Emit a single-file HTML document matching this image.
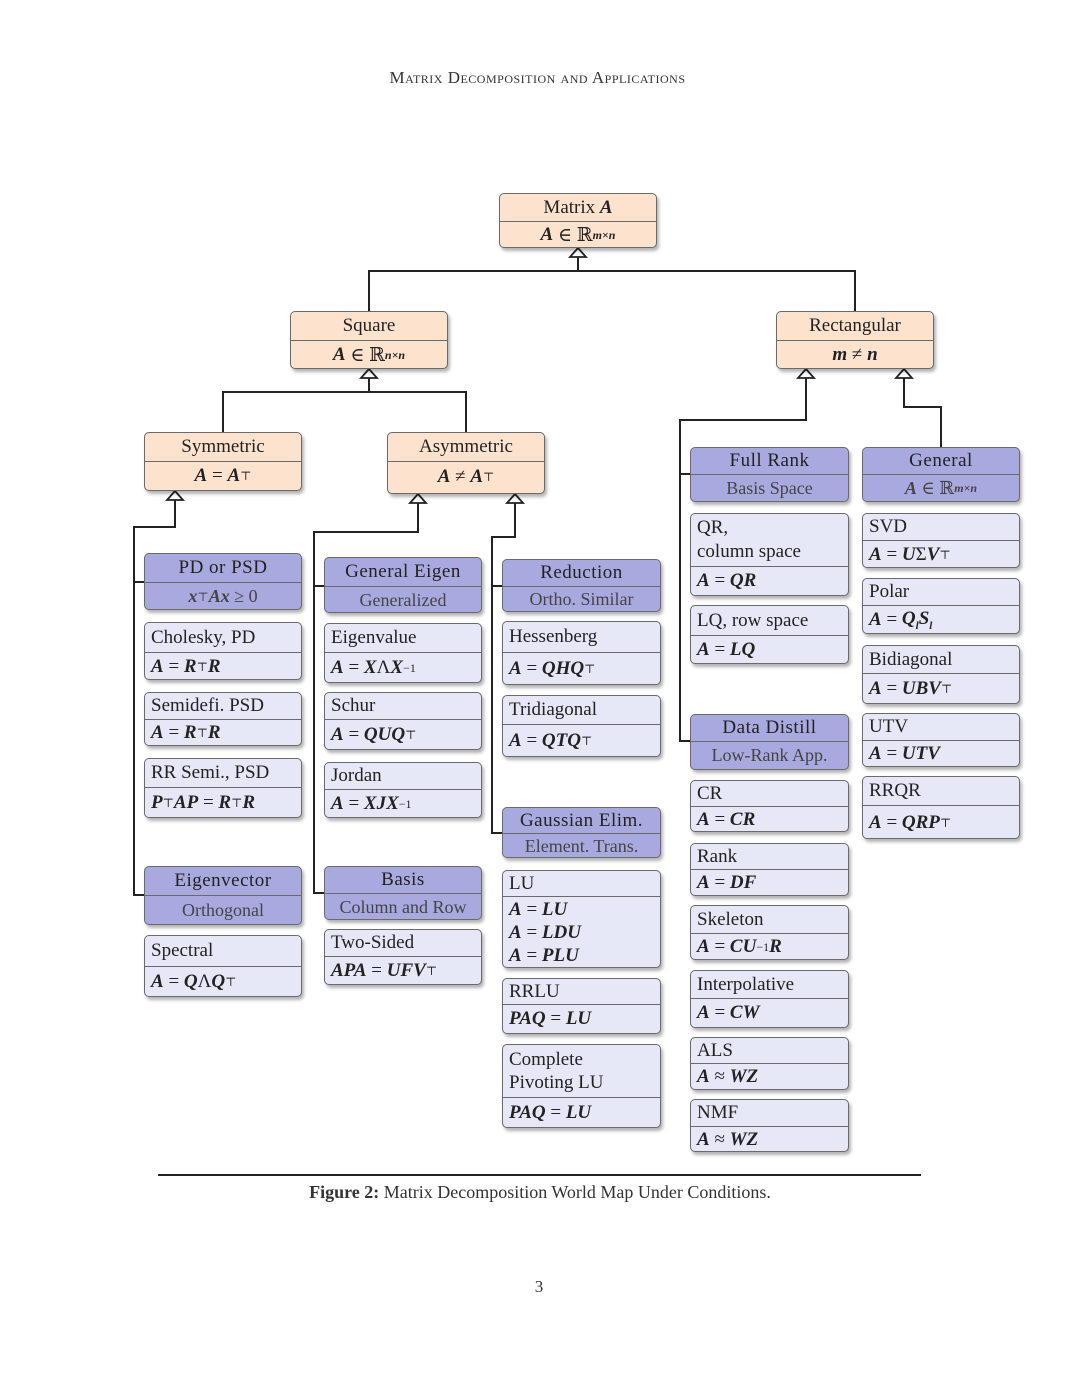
<!DOCTYPE html>
<html><head><meta charset="utf-8">
<style>
body{margin:0;background:#fff;}
#pg{position:relative;width:1080px;height:1397px;font-family:"Liberation Serif","DejaVu Serif",serif;color:#222;overflow:hidden;}
.b{position:absolute;box-sizing:border-box;border:1.5px solid #6a6a6a;border-radius:5px;box-shadow:2px 3px 3px rgba(0,0,0,0.3);font-size:19px;overflow:hidden;}
.o{background:#fde3cd;}
.p{background:#a8aadf;}
.l{background:#e6e7f7;}
.t{box-sizing:border-box;border-bottom:1.3px solid #6a6a6a;display:flex;align-items:center;}
.u{display:flex;align-items:center;}
.o .t,.o .u,.p .t,.p .u{justify-content:center;}
.l .t,.l .u{padding-left:6px;}
.p .u{color:#444;font-size:18px;}
.p .t{letter-spacing:0.5px;}
i{font-style:italic;font-weight:bold;}
sup{font-size:12px;line-height:0;}
.txt{position:absolute;white-space:nowrap;}
</style></head><body><div id="pg">
<div class="txt" style="left:0;width:1075px;text-align:center;top:68px;font-size:17px;font-variant:small-caps;letter-spacing:0.5px;color:#333">Matrix Decomposition and Applications</div>

<svg width="1080" height="1397" style="position:absolute;left:0;top:0" fill="none" stroke="#222" stroke-width="2">
<polyline points="578,256 578,271 369,271 369,311"/><polyline points="578,271 855,271 855,311"/>
<polyline points="369,377 369,392 223,392 223,432"/><polyline points="369,392 466,392 466,432"/>
<polyline points="806,377 806,420 680,420 680,741 690,741"/><line x1="680" y1="474" x2="690" y2="474"/>
<polyline points="904,377 904,407 941,407 941,447"/>
<polyline points="175,499 175,527 134,527 134,895 144,895"/><line x1="134" y1="582" x2="144" y2="582"/>
<polyline points="418,502 418,532 314,532 314,893 324,893"/><line x1="314" y1="586" x2="324" y2="586"/>
<polyline points="515,502 515,537 492,537 492,833 502,833"/><line x1="492" y1="586" x2="502" y2="586"/>
<g fill="#fff" stroke-width="1.8">
<polygon points="578,248 570,257 586,257"/>
<polygon points="369,369 361,378 377,378"/>
<polygon points="806,369 798,378 814,378"/>
<polygon points="904,369 896,378 912,378"/>
<polygon points="175,491 167,500 183,500"/>
<polygon points="418,494 410,503 426,503"/>
<polygon points="515,494 507,503 523,503"/>
</g>
<line x1="158" y1="1175" x2="921" y2="1175" stroke-width="2"/>
</svg>

<div class="b o" style="left:499px;top:193px;width:158px;height:55px"><div class="t" style="height:28px">Matrix&nbsp;<i>A</i></div><div class="u" style="height:26px"><i>A</i>&nbsp;∈&nbsp;ℝ<sup><i>m×n</i></sup></div></div>
<div class="b o" style="left:290px;top:311px;width:158px;height:58px"><div class="t" style="height:29px">Square</div><div class="u" style="height:28px"><i>A</i>&nbsp;∈&nbsp;ℝ<sup><i>n×n</i></sup></div></div>
<div class="b o" style="left:776px;top:311px;width:158px;height:58px"><div class="t" style="height:29px">Rectangular</div><div class="u" style="height:28px"><i>m</i>&nbsp;≠&nbsp;<i>n</i></div></div>
<div class="b o" style="left:144px;top:432px;width:158px;height:59px"><div class="t" style="height:29px">Symmetric</div><div class="u" style="height:28px"><i>A</i>&nbsp;=&nbsp;<i>A</i><sup>⊤</sup></div></div>
<div class="b o" style="left:387px;top:432px;width:158px;height:62px"><div class="t" style="height:29px">Asymmetric</div><div class="u" style="height:30px"><i>A</i>&nbsp;≠&nbsp;<i>A</i><sup>⊤</sup></div></div>

<!-- column 1 -->
<div class="b p" style="left:144px;top:553px;width:158px;height:57px"><div class="t" style="height:29px">PD or PSD</div><div class="u" style="height:27px"><i>x</i><sup>⊤</sup><i>Ax</i>&nbsp;≥&nbsp;0</div></div>
<div class="b l" style="left:144px;top:622px;width:158px;height:58px"><div class="t" style="height:30px">Cholesky, PD</div><div class="u" style="height:27px"><i>A</i>&nbsp;=&nbsp;<i>R</i><sup>⊤</sup><i>R</i></div></div>
<div class="b l" style="left:144px;top:692px;width:158px;height:54px"><div class="t" style="height:27px">Semidefi. PSD</div><div class="u" style="height:26px"><i>A</i>&nbsp;=&nbsp;<i>R</i><sup>⊤</sup><i>R</i></div></div>
<div class="b l" style="left:144px;top:758px;width:158px;height:60px"><div class="t" style="height:29px">RR Semi., PSD</div><div class="u" style="height:30px"><i>P</i><sup>⊤</sup><i>AP</i>&nbsp;=&nbsp;<i>R</i><sup>⊤</sup><i>R</i></div></div>
<div class="b p" style="left:144px;top:866px;width:158px;height:59px"><div class="t" style="height:29px">Eigenvector</div><div class="u" style="height:29px">Orthogonal</div></div>
<div class="b l" style="left:144px;top:935px;width:158px;height:62px"><div class="t" style="height:31px">Spectral</div><div class="u" style="height:30px"><i>A</i>&nbsp;=&nbsp;<i>Q</i>Λ<i>Q</i><sup>⊤</sup></div></div>

<!-- column 2 -->
<div class="b p" style="left:324px;top:557px;width:158px;height:56px"><div class="t" style="height:29px">General Eigen</div><div class="u" style="height:26px">Generalized</div></div>
<div class="b l" style="left:324px;top:623px;width:158px;height:60px"><div class="t" style="height:29px">Eigenvalue</div><div class="u" style="height:30px"><i>A</i>&nbsp;=&nbsp;<i>X</i>Λ<i>X</i><sup>−1</sup></div></div>
<div class="b l" style="left:324px;top:692px;width:158px;height:58px"><div class="t" style="height:27px">Schur</div><div class="u" style="height:30px"><i>A</i>&nbsp;=&nbsp;<i>QUQ</i><sup>⊤</sup></div></div>
<div class="b l" style="left:324px;top:762px;width:158px;height:56px"><div class="t" style="height:27px">Jordan</div><div class="u" style="height:28px"><i>A</i>&nbsp;=&nbsp;<i>XJX</i><sup>−1</sup></div></div>
<div class="b p" style="left:324px;top:866px;width:158px;height:54px"><div class="t" style="height:27px">Basis</div><div class="u" style="height:26px">Column and Row</div></div>
<div class="b l" style="left:324px;top:929px;width:158px;height:56px"><div class="t" style="height:27px">Two-Sided</div><div class="u" style="height:28px"><i>APA</i>&nbsp;=&nbsp;<i>UFV</i><sup>⊤</sup></div></div>

<!-- column 3 -->
<div class="b p" style="left:502px;top:559px;width:159px;height:53px"><div class="t" style="height:27px">Reduction</div><div class="u" style="height:25px">Ortho. Similar</div></div>
<div class="b l" style="left:502px;top:621px;width:159px;height:64px"><div class="t" style="height:31px">Hessenberg</div><div class="u" style="height:32px"><i>A</i>&nbsp;=&nbsp;<i>QHQ</i><sup>⊤</sup></div></div>
<div class="b l" style="left:502px;top:695px;width:159px;height:62px"><div class="t" style="height:29px">Tridiagonal</div><div class="u" style="height:32px"><i>A</i>&nbsp;=&nbsp;<i>QTQ</i><sup>⊤</sup></div></div>
<div class="b p" style="left:502px;top:807px;width:159px;height:51px"><div class="t" style="height:26px">Gaussian Elim.</div><div class="u" style="height:24px">Element. Trans.</div></div>
<div class="b l" style="left:502px;top:870px;width:159px;height:98px"><div class="t" style="height:26px">LU</div><div class="u" style="height:70px;flex-direction:column;align-items:flex-start;justify-content:center;line-height:23px"><span><i>A</i>&nbsp;=&nbsp;<i>LU</i></span><span><i>A</i>&nbsp;=&nbsp;<i>LDU</i></span><span><i>A</i>&nbsp;=&nbsp;<i>PLU</i></span></div></div>
<div class="b l" style="left:502px;top:978px;width:159px;height:56px"><div class="t" style="height:26px">RRLU</div><div class="u" style="height:28px"><i>PAQ</i>&nbsp;=&nbsp;<i>LU</i></div></div>
<div class="b l" style="left:502px;top:1044px;width:159px;height:84px"><div class="t" style="height:53px;line-height:23px;flex-direction:column;align-items:flex-start;justify-content:center"><span>Complete</span><span>Pivoting LU</span></div><div class="u" style="height:29px"><i>PAQ</i>&nbsp;=&nbsp;<i>LU</i></div></div>

<!-- column 4 -->
<div class="b p" style="left:690px;top:447px;width:159px;height:55px"><div class="t" style="height:27px">Full Rank</div><div class="u" style="height:26px">Basis Space</div></div>
<div class="b l" style="left:690px;top:513px;width:159px;height:83px"><div class="t" style="height:53px;line-height:24px;flex-direction:column;align-items:flex-start;justify-content:center"><span>QR,</span><span>column space</span></div><div class="u" style="height:28px"><i>A</i>&nbsp;=&nbsp;<i>QR</i></div></div>
<div class="b l" style="left:690px;top:605px;width:159px;height:59px"><div class="t" style="height:30px">LQ, row space</div><div class="u" style="height:28px"><i>A</i>&nbsp;=&nbsp;<i>LQ</i></div></div>
<div class="b p" style="left:690px;top:714px;width:159px;height:56px"><div class="t" style="height:27px">Data Distill</div><div class="u" style="height:27px">Low-Rank App.</div></div>
<div class="b l" style="left:690px;top:780px;width:159px;height:52px"><div class="t" style="height:26px">CR</div><div class="u" style="height:25px"><i>A</i>&nbsp;=&nbsp;<i>CR</i></div></div>
<div class="b l" style="left:690px;top:843px;width:159px;height:53px"><div class="t" style="height:26px">Rank</div><div class="u" style="height:26px"><i>A</i>&nbsp;=&nbsp;<i>DF</i></div></div>
<div class="b l" style="left:690px;top:905px;width:159px;height:55px"><div class="t" style="height:28px">Skeleton</div><div class="u" style="height:26px"><i>A</i>&nbsp;=&nbsp;<i>CU</i><sup>−1</sup><i>R</i></div></div>
<div class="b l" style="left:690px;top:970px;width:159px;height:58px"><div class="t" style="height:28px">Interpolative</div><div class="u" style="height:28px"><i>A</i>&nbsp;=&nbsp;<i>CW</i></div></div>
<div class="b l" style="left:690px;top:1037px;width:159px;height:53px"><div class="t" style="height:26px">ALS</div><div class="u" style="height:26px"><i>A</i>&nbsp;≈&nbsp;<i>WZ</i></div></div>
<div class="b l" style="left:690px;top:1099px;width:159px;height:53px"><div class="t" style="height:27px">NMF</div><div class="u" style="height:25px"><i>A</i>&nbsp;≈&nbsp;<i>WZ</i></div></div>

<!-- column 5 -->
<div class="b p" style="left:862px;top:447px;width:158px;height:55px"><div class="t" style="height:27px">General</div><div class="u" style="height:26px"><i>A</i>&nbsp;∈&nbsp;ℝ<sup><i>m×n</i></sup></div></div>
<div class="b l" style="left:862px;top:513px;width:158px;height:55px"><div class="t" style="height:27px">SVD</div><div class="u" style="height:27px"><i>A</i>&nbsp;=&nbsp;<i>U</i>Σ<i>V</i><sup>⊤</sup></div></div>
<div class="b l" style="left:862px;top:578px;width:158px;height:56px"><div class="t" style="height:27px">Polar</div><div class="u" style="height:28px"><i>A</i>&nbsp;=&nbsp;<i>Q<sub style="font-size:11px">l</sub>S<sub style="font-size:11px">l</sub></i></div></div>
<div class="b l" style="left:862px;top:645px;width:158px;height:59px"><div class="t" style="height:28px">Bidiagonal</div><div class="u" style="height:30px"><i>A</i>&nbsp;=&nbsp;<i>UBV</i><sup>⊤</sup></div></div>
<div class="b l" style="left:862px;top:713px;width:158px;height:54px"><div class="t" style="height:27px">UTV</div><div class="u" style="height:26px"><i>A</i>&nbsp;=&nbsp;<i>UTV</i></div></div>
<div class="b l" style="left:862px;top:776px;width:158px;height:63px"><div class="t" style="height:29px">RRQR</div><div class="u" style="height:33px"><i>A</i>&nbsp;=&nbsp;<i>QRP</i><sup>⊤</sup></div></div>

<div class="txt" style="left:0;width:1080px;text-align:center;top:1182px;font-size:18px;color:#333"><b>Figure 2:</b> Matrix Decomposition World Map Under Conditions.</div>
<div class="txt" style="left:0;width:1078px;text-align:center;top:1277px;font-size:17px;color:#333">3</div>
</div></body></html>
